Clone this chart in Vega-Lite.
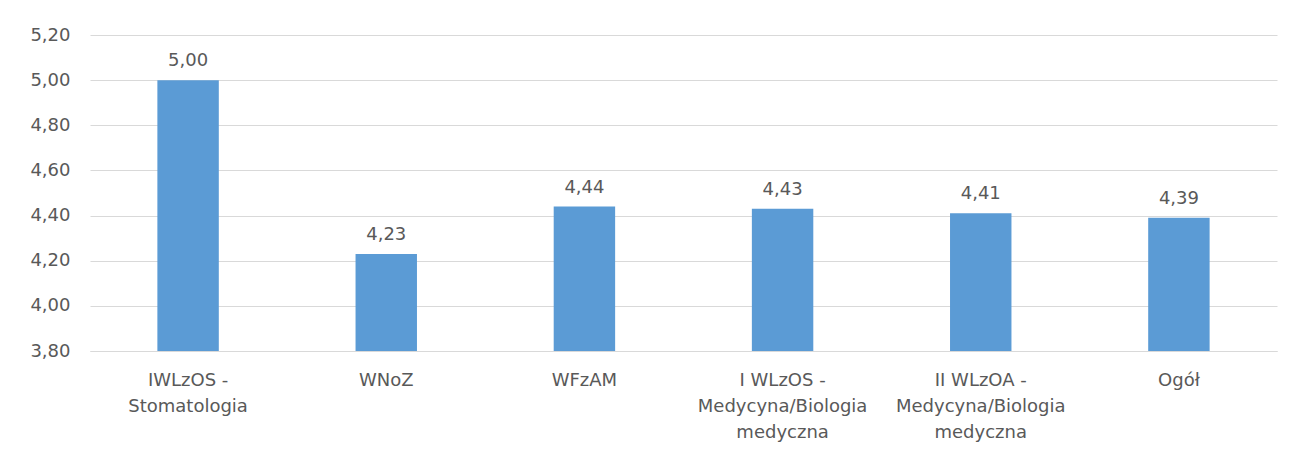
{
  "$schema": "https://vega.github.io/schema/vega-lite/v6.json",
  "width": 1187,
  "height": 316,
  "padding": {"left": 29, "top": 26, "right": 10, "bottom": 5},
  "background": "white",
  "data": {
    "values": [
      {"kategoria": "IWLzOS - Stomatologia", "etykieta": "IWLzOS -|Stomatologia", "wartosc": 5.00},
      {"kategoria": "WNoZ", "etykieta": "WNoZ", "wartosc": 4.23},
      {"kategoria": "WFzAM", "etykieta": "WFzAM", "wartosc": 4.44},
      {"kategoria": "I WLzOS - Medycyna/Biologia medyczna", "etykieta": "I WLzOS -|Medycyna/Biologia|medyczna", "wartosc": 4.43},
      {"kategoria": "II WLzOA - Medycyna/Biologia medyczna", "etykieta": "II WLzOA -|Medycyna/Biologia|medyczna", "wartosc": 4.41},
      {"kategoria": "Ogół", "etykieta": "Ogół", "wartosc": 4.39}
    ]
  },
  "transform": [
    {"calculate": "replace(format(datum.wartosc, '.2f'), '.', ',')", "as": "tekst"}
  ],
  "encoding": {
    "x": {
      "field": "etykieta",
      "type": "nominal",
      "sort": null,
      "scale": {"paddingInner": 0.69, "paddingOuter": 0.34},
      "axis": {
        "title": null,
        "labelAngle": 0,
        "labelExpr": "split(datum.value, '|')",
        "labelFont": "DejaVu Sans",
        "labelFontSize": 18,
        "labelColor": "#595959",
        "labelLineHeight": 26,
        "labelPadding": 20,
        "ticks": false,
        "tickSize": 0,
        "domainColor": "#d9d9d9",
        "domainWidth": 1,
        "grid": false
      }
    },
    "y": {
      "field": "wartosc",
      "type": "quantitative",
      "scale": {"domain": [3.8, 5.2], "zero": false, "nice": false},
      "axis": {
        "title": null,
        "values": [3.8, 4.0, 4.2, 4.4, 4.6, 4.8, 5.0, 5.2],
        "labelExpr": "replace(format(datum.value, '.2f'), '.', ',')",
        "labelFont": "DejaVu Sans",
        "labelFontSize": 18,
        "labelColor": "#595959",
        "labelPadding": 20,
        "ticks": false,
        "tickSize": 0,
        "domain": false,
        "grid": true,
        "gridColor": "#d9d9d9",
        "gridWidth": 1
      }
    }
  },
  "layer": [
    {
      "mark": {"type": "bar", "color": "#5B9BD5", "clip": true},
      "encoding": {"y2": {"datum": 3.8}}
    },
    {
      "mark": {"type": "text", "baseline": "alphabetic", "dy": -14, "font": "DejaVu Sans", "fontSize": 18, "color": "#595959"},
      "encoding": {"text": {"field": "tekst"}}
    }
  ],
  "config": {"view": {"stroke": null}}
}
